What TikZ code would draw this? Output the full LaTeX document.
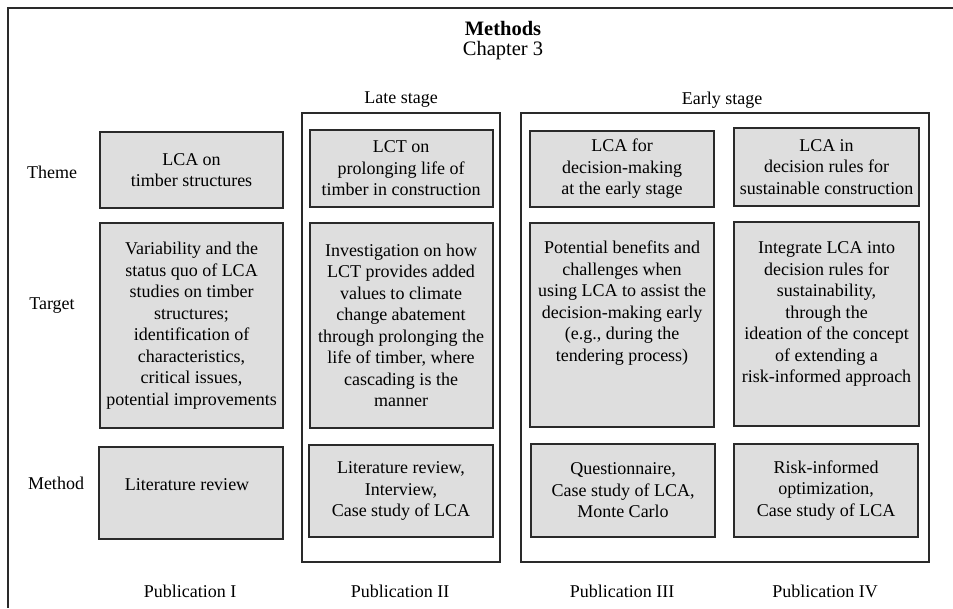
\documentclass[tikz,border=0pt]{standalone}
\usepackage{fontspec}
\setmainfont{Liberation Serif}
\definecolor{boxgray}{HTML}{DEDEDE}
\definecolor{edge}{HTML}{2A2A2A}
\begin{document}
\begin{tikzpicture}[x=1pt,y=-1pt,
  gbox/.style={draw=edge,line width=1.3pt,fill=boxgray},
  stagebox/.style={draw=edge,line width=1.3pt},
  txt/.style={font=\fontsize{18}{21.5}\selectfont,align=center,inner sep=0pt},
  lbl/.style={font=\fontsize{18}{21.5}\selectfont,inner sep=0pt}]
\useasboundingbox (0,0) rectangle (953,608);
\fill[white] (0,0) rectangle (953,608);
% outer frame (cropped)
\draw[edge,line width=1.3pt] (953,8) -- (8,8) -- (8,608);
% title
\node[lbl,font=\fontsize{20.5}{24}\selectfont\bfseries] (title) at (503,28) {Methods};
\node[lbl,font=\fontsize{20.5}{24}\selectfont] (chap) at (503,51) {Chapter 3};
% stage boxes
\draw[stagebox] (302,113) rectangle (500,562);
\draw[stagebox] (521,113) rectangle (929,562);
\node[lbl] (late) at (401,100) {Late stage};
\node[lbl] (early) at (722,100) {Early stage};
% row labels
\node[lbl] (rtheme) at (52,172) {Theme};
\node[lbl] (rtarget) at (52,306) {Target};
\node[lbl] (rmethod) at (56,483) {Method};
% column 1
\draw[gbox] (100,132) rectangle (283,208);
\node[txt] (t1) at (191.5,170) {LCA on\\timber structures};
\draw[gbox] (100,223) rectangle (283,428);
\node[txt] (g1) at (191.5,325.5) {Variability and the\\status quo of LCA\\studies on timber\\structures;\\identification of\\characteristics,\\critical issues,\\potential improvements};
\draw[gbox] (99,447) rectangle (283,539);
\node[txt] (m1) at (187,485) {Literature review};
% column 2
\draw[gbox] (310,130) rectangle (493,207);
\node[txt] (t2) at (401,168.5) {LCT on\\prolonging life of\\timber in construction};
\draw[gbox] (310,223) rectangle (493,428);
\node[txt] (g2) at (401,325.5) {Investigation on how\\LCT provides added\\values to climate\\change abatement\\through prolonging the\\life of timber, where\\cascading is the\\manner};
\draw[gbox] (309,445) rectangle (493,537);
\node[txt] (m2) at (401,491) {Literature review,\\Interview,\\Case study of LCA};
% column 3
\draw[gbox] (530,131) rectangle (714,207);
\node[txt] (t3) at (622,169) {LCA for\\decision-making\\at the early stage};
\draw[gbox] (530,223) rectangle (714,427);
\node[txt] (g3) at (622,303) {Potential benefits and\\challenges when\\using LCA to assist the\\decision-making early\\(e.g., during the\\tendering process)};
\draw[gbox] (531,444) rectangle (715,537);
\node[txt] (m3) at (623,490.5) {Questionnaire,\\Case study of LCA,\\Monte Carlo};
% column 4
\draw[gbox] (734,128) rectangle (919,206);
\node[txt] (t4) at (826.5,167) {LCA in\\decision rules for\\sustainable construction};
\draw[gbox] (734,222) rectangle (919,426);
\node[txt] (g4) at (826.5,314) {Integrate LCA into\\decision rules for\\sustainability,\\through the\\ideation of the concept\\of extending a\\risk-informed approach};
\draw[gbox] (734,444) rectangle (918,537);
\node[txt] (m4) at (826,490.5) {Risk-informed\\optimization,\\Case study of LCA};
% publication labels
\node[lbl] (p1) at (190,591) {Publication I};
\node[lbl] (p2) at (400,591) {Publication II};
\node[lbl] (p3) at (622,591) {Publication III};
\node[lbl] (p4) at (825,591) {Publication IV};
\end{tikzpicture}
\end{document}
